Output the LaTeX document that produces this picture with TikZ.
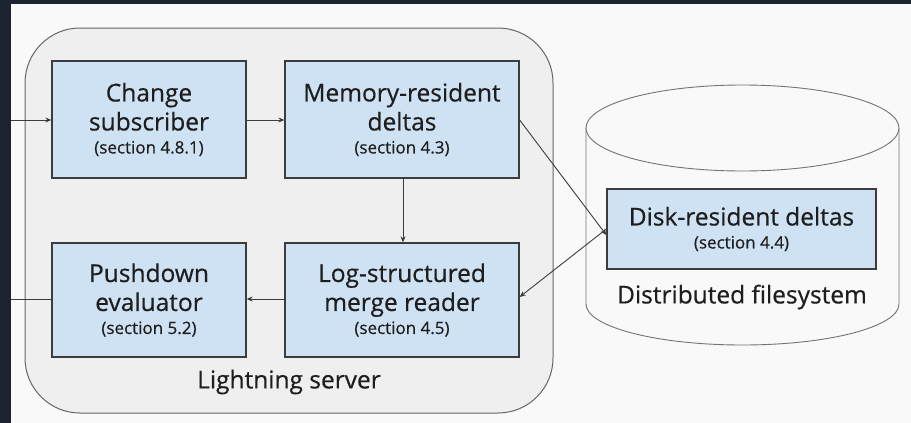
\documentclass[tikz,border=0pt]{standalone}
\usepackage{fontspec}
\setmainfont{Open Sans}[FakeBold=0.5]
\usetikzlibrary{arrows.meta,shapes.geometric}
\definecolor{frame}{HTML}{1B2230}
\definecolor{bg}{HTML}{F9F9F9}
\definecolor{cont}{HTML}{EFEFEF}
\definecolor{boxfill}{HTML}{CFE2F3}
\definecolor{boxline}{HTML}{3C3C3C}
\definecolor{txt}{HTML}{1E1E1E}
\tikzset{
  procbox/.style={draw=boxline, line width=1.3pt, fill=boxfill, inner sep=0pt, text=txt},
  conn/.style={draw=boxline, line width=0.9pt},
  arr/.style={conn, -{Stealth[length=6pt,width=5pt]}},
  mainf/.style={font=\fontsize{24.5}{29}\selectfont},
}
\newcommand{\sect}[1]{\\[-6pt]{\fontsize{17}{20}\selectfont #1}}
\begin{document}
\begin{tikzpicture}[x=1pt,y=-1pt]
\useasboundingbox (0,0) rectangle (911,423);
\fill[bg] (0,0) rectangle (911,423);
\fill[frame] (0,0) rectangle (10.5,423);
\fill[frame] (0,0) rectangle (911,3.5);
% container
\draw[draw=black!60, line width=1pt, fill=cont, rounded corners=55pt] (25,28) rectangle (553,413);
\node[text=txt, mainf] (ls) at (289,382) {Lightning server};
% cylinder
\draw[draw=black!55, line width=0.9pt, fill=bg] (586,128) -- (586,304) arc[start angle=180, end angle=0, x radius=156.5, y radius=41] -- (899,128);
\draw[draw=black!55, line width=0.9pt, fill=bg] (742.5,128) ellipse[x radius=156.5, y radius=43];
\node[text=txt, mainf] (dfs) at (742,297) {Distributed filesystem};
% boxes
\node[procbox, minimum width=194pt, minimum height=117pt, align=center, mainf] (cs) at (149,119.5) {Change\\subscriber\sect{(section 4.8.1)}};
\node[procbox, minimum width=234pt, minimum height=117pt, align=center, mainf] (mr) at (402,119.5) {Memory-resident\\deltas\sect{(section 4.3)}};
\node[procbox, minimum width=194pt, minimum height=114pt, align=center, mainf] (pe) at (149,300) {Pushdown\\evaluator\sect{(section 5.2)}};
\node[procbox, minimum width=234pt, minimum height=114pt, align=center, mainf] (lsm) at (402,300) {Log-structured\\merge reader\sect{(section 4.5)}};
\node[procbox, minimum width=269pt, minimum height=80pt, align=center, mainf] (dr) at (741.5,229) {Disk-resident deltas\sect{(section 4.4)}};
% connectors
\coordinate (inL) at (10.5,120);
\coordinate (outL) at (10.5,299);
\draw[arr] (inL) -- (cs.west |- inL);
\draw[arr] (cs.east |- inL) -- (mr.west |- inL);
\draw[arr] (mr.south) ++(1,0) -- (lsm.north -| 403,0);
\draw[arr] (mr.east |- 0,120) -- ([yshift=-6pt]dr.west);
\draw[arr] ([yshift=0pt]dr.west) -- (lsm.east |- 0,297);
\draw[arr] (lsm.west |- 0,299) -- (pe.east |- 0,299);
\draw[conn] (pe.west |- outL) -- (outL);
\end{tikzpicture}
\end{document}
